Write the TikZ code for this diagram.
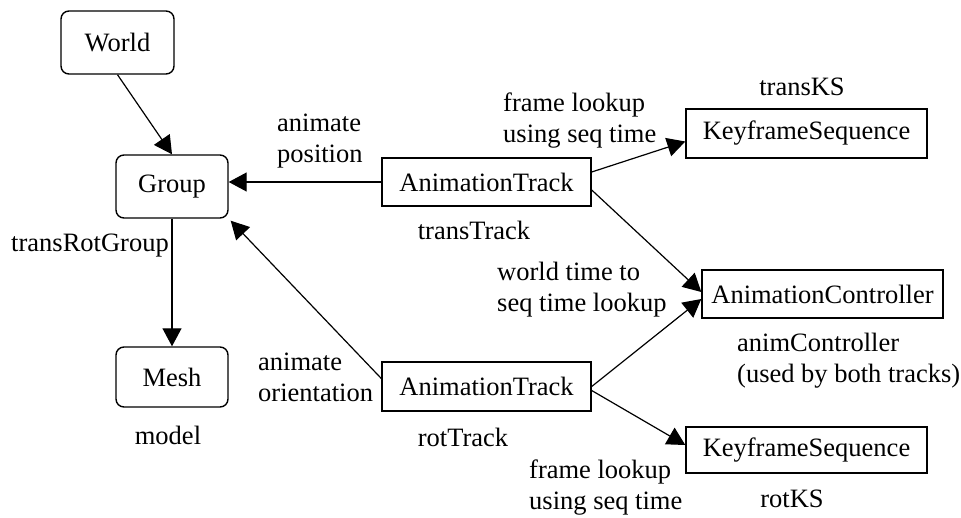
\documentclass[tikz,border=0pt]{standalone}
\usepackage{fontspec}
\setmainfont{Liberation Serif}
\usetikzlibrary{arrows.meta}

\begin{document}
\begin{tikzpicture}[x=1pt,y=-1pt,
  every node/.style={font=\fontsize{26.5}{31}\selectfont, inner sep=0pt},
  box/.style={draw, line width=1.4pt, minimum width=#1},
  rbox/.style={box=#1, rounded corners=8pt},
  conn/.style={line width=1.2pt, -{Triangle[length=18pt,width=19pt]}},
  lbl/.style={align=left, anchor=west}]
\useasboundingbox (0,0) rectangle (961,517);

% scene graph nodes
\node[rbox=113pt, minimum height=63pt] (world) at (117.5,42.5) {World};
\node[rbox=112pt, minimum height=63pt] (group) at (172,186.5) {Group};
\node[rbox=112pt, minimum height=60pt] (mesh)  at (172,377) {Mesh};

% animation objects
\node[box=209pt, minimum height=48pt] (tt)  at (486.5,182)   {AnimationTrack};
\node[box=209pt, minimum height=49pt] (rt)  at (486.5,386.5) {AnimationTrack};
\node[box=241pt, minimum height=49pt] (tks) at (806.5,133.5) {KeyframeSequence};
\node[box=241pt, minimum height=48pt] (ac)  at (822.5,294)   {AnimationController};
\node[box=241pt, minimum height=46pt] (rks) at (806.5,450)   {KeyframeSequence};

% object names and edge notes
\node (lgroup) at (90,246)  {transRotGroup};
\node (lmesh)  at (168,435) {model};
\node (ltt)    at (474,230) {transTrack};
\node (lrt)    at (463,437) {rotTrack};
\node (ltks)   at (802,87)  {transKS};
\node (lrks)   at (792,499) {rotKS};
\node[lbl] (lpos)  at (277,141) {animate\\position};
\node[lbl] (lori)  at (258,377) {animate\\orientation};
\node[lbl] (lfl1)  at (503,121) {frame lookup\\using seq time};
\node[lbl] (lwt)   at (497,290) {world time to\\seq time lookup};
\node[lbl] (lfl2)  at (529,488) {frame lookup\\using seq time};
\node[lbl] (lac)   at (737,361) {animController\\(used by both tracks)};

% connectors
\draw[conn] (world.south) -- (group.north);
\draw[conn] (group.south) -- (mesh.north);
\draw[conn] (tt.west) -- (tt.west -| group.east);
\draw[conn] ([yshift=8pt]rt.west) -- ([xshift=2pt,yshift=-2pt]group.south east);
\draw[conn] ([yshift=10pt]tt.east) -- ([yshift=-8pt]tks.west);
\draw[conn] ([yshift=-8pt]tt.east) -- ([yshift=2pt]ac.west);
\draw[conn] (rt.east) -- ([yshift=-5pt]ac.west);
\draw[conn] ([yshift=-4pt]rt.east) -- ([yshift=5pt]rks.west);
\end{tikzpicture}
\end{document}
